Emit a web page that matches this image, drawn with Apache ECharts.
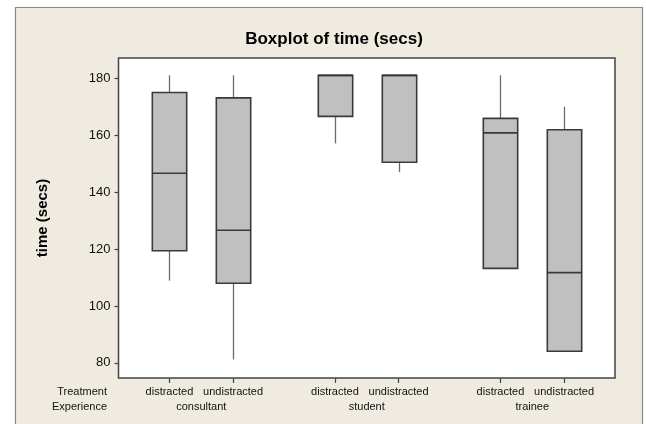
<!DOCTYPE html>
<html>
<head>
<meta charset="utf-8">
<script src="https://cdn.jsdelivr.net/npm/echarts@6/dist/echarts.min.js"></script>
<style>
html,body{margin:0;padding:0;background:#fff;}
#chart{width:646px;height:424px;}
</style>
</head>
<body>
<div id="chart"></div>
<script>
// ---- data ----
var positions   = [4, 9, 17, 22, 30, 35];
var treatments  = ['distracted', 'undistracted', 'distracted', 'undistracted', 'distracted', 'undistracted'];
var groupPos    = [6.5, 19.5, 32.5];
var experiences = ['consultant', 'student', 'trainee'];
var lowVals     = [108.9, 81.2, 157.1, 147.0, 113.2, 84.1];
var q1Vals      = [119.4, 108.0, 166.6, 150.5, 113.2, 84.1];
var medVals     = [146.6, 126.6, 181.0, 181.0, 160.8, 111.7];
var q3Vals      = [175.0, 173.1, 181.0, 181.0, 165.9, 161.9];
var highVals    = [181.0, 181.0, 181.0, 181.0, 181.0, 170.0];
var yTicks      = [80, 100, 120, 140, 160, 180];

var seriesData = positions.map(function (p, i) {
  return [p, lowVals[i], q1Vals[i], medVals[i], q3Vals[i], highVals[i]];
});

var BOX_W = 2.7; // in x-axis units
var textFont = 'Liberation Sans';

function renderItem(params, api) {
  var x = api.value(0);
  var lo = api.coord([x, api.value(1)]);
  var q1 = api.coord([x, api.value(2)]);
  var med = api.coord([x, api.value(3)]);
  var q3 = api.coord([x, api.value(4)]);
  var hi = api.coord([x, api.value(5)]);
  var hw = api.size([BOX_W, 0])[0] / 2;
  var cx = Math.round(med[0]) + 0.5;
  var wStyle = { stroke: '#6a6a6a', lineWidth: 1.3 };
  var bStyle = { stroke: '#3a3a3a', lineWidth: 1.6 };
  var children = [];
  if (hi[1] < q3[1]) children.push({ type: 'line', shape: { x1: cx, y1: hi[1], x2: cx, y2: q3[1] }, style: wStyle });
  if (lo[1] > q1[1]) children.push({ type: 'line', shape: { x1: cx, y1: q1[1], x2: cx, y2: lo[1] }, style: wStyle });
  children.push({ type: 'rect', shape: { x: cx - hw, y: q3[1], width: 2 * hw, height: q1[1] - q3[1] },
    style: { fill: '#c0c0c0', stroke: '#3a3a3a', lineWidth: 1.6 } });
  children.push({ type: 'line', shape: { x1: cx - hw, y1: med[1], x2: cx + hw, y2: med[1] }, style: bStyle });
  return { type: 'group', children: children };
}

var chart = echarts.init(document.getElementById('chart'), null, { renderer: 'canvas' });
chart.setOption({
  backgroundColor: '#efebe1',
  animation: false,
  title: {
    text: 'Boxplot of time (secs)',
    left: 329, top: 26, textAlign: 'center',
    textStyle: { fontFamily: textFont, fontSize: 17, fontWeight: 'bold', color: '#000' }
  },
  graphic: [
    { type: 'rect', shape: { x: 0, y: 0, width: 15, height: 424 }, style: { fill: '#fff' }, silent: true },
    { type: 'rect', shape: { x: 0, y: 0, width: 646, height: 7 }, style: { fill: '#fff' }, silent: true },
    { type: 'rect', shape: { x: 643, y: 0, width: 3, height: 424 }, style: { fill: '#fff' }, silent: true },
    { type: 'polyline', shape: { points: [[15.5, 424], [15.5, 7.5], [642.5, 7.5], [642.5, 424]] },
      style: { stroke: '#8a8a8a', lineWidth: 1.2, fill: null }, silent: true },
    { type: 'text', x: 107, y: 386, style: { text: 'Treatment', fontFamily: textFont, fontSize: 11, fill: '#111', textAlign: 'right', textVerticalAlign: 'top' } },
    { type: 'text', x: 107, y: 401, style: { text: 'Experience', fontFamily: textFont, fontSize: 11, fill: '#111', textAlign: 'right', textVerticalAlign: 'top' } }
  ],
  grid: {
    left: 118.5, right: 31, top: 58, bottom: 46,
    show: true, backgroundColor: '#ffffff', borderColor: '#444', borderWidth: 1.5
  },
  xAxis: [{
    type: 'value', min: 0, max: 39,
    axisLine: { show: false },
    splitLine: { show: false },
    axisTick: { show: true, customValues: positions, length: 5, lineStyle: { color: '#444', width: 1.2 } },
    axisLabel: {
      customValues: positions, margin: 8,
      fontFamily: textFont, fontSize: 11, color: '#111',
      formatter: function (v) { var i = positions.indexOf(v); return i >= 0 ? treatments[i] : ''; }
    }
  }, {
    type: 'value', min: 0, max: 39, position: 'bottom', offset: 15,
    axisLine: { show: false }, splitLine: { show: false }, axisTick: { show: false },
    axisLabel: {
      customValues: groupPos, margin: 8,
      fontFamily: textFont, fontSize: 11, color: '#111',
      formatter: function (v) { var i = groupPos.indexOf(v); return i >= 0 ? experiences[i] : ''; }
    }
  }],
  yAxis: {
    type: 'value', min: 74.7, max: 187.1,
    name: 'time (secs)', nameLocation: 'middle', nameRotate: 90, nameGap: 68,
    nameTextStyle: { fontFamily: textFont, fontSize: 15, fontWeight: 'bold', color: '#000' },
    axisLine: { show: false },
    splitLine: { show: false },
    axisTick: { show: true, customValues: yTicks, length: 4, lineStyle: { color: '#444', width: 1.2 } },
    axisLabel: { customValues: yTicks, margin: 8, fontFamily: textFont, fontSize: 13, color: '#111' }
  },
  series: [{
    type: 'custom',
    renderItem: renderItem,
    xAxisIndex: 0, yAxisIndex: 0,
    encode: { x: 0, y: [1, 2, 3, 4, 5] },
    data: seriesData,
    clip: false
  }]
});
</script>
</body>
</html>
